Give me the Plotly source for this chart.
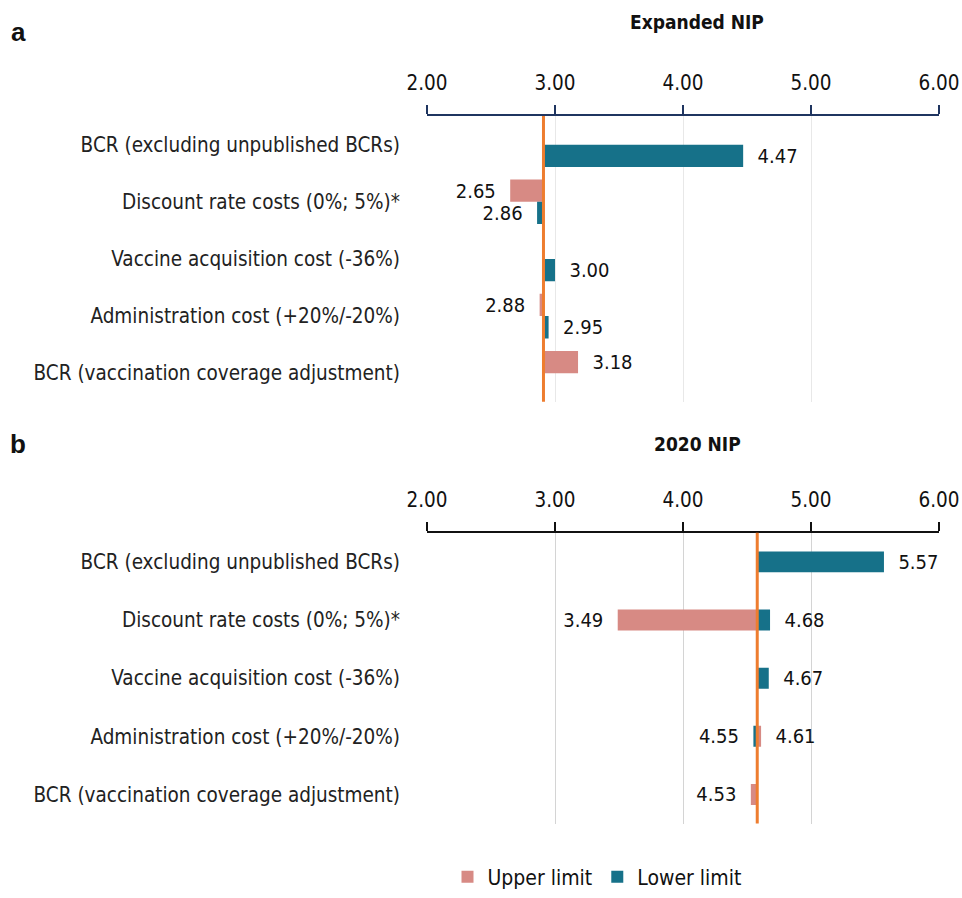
import plotly.graph_objects as go

categories = [
    "BCR (excluding unpublished BCRs)",
    "Discount rate costs (0%; 5%)*",
    "Vaccine acquisition cost (-36%)",
    "Administration cost (+20%/-20%)",
    "BCR (vaccination coverage adjustment)",
]

# Panel a: Expanded NIP
base_a = 2.91
upper_a = [None, 2.65, None, 2.88, 3.18]
lower_a = [4.47, 2.86, 3.00, 2.95, None]

# Panel b: 2020 NIP
base_b = 4.58
upper_b = [None, 3.49, None, 4.61, 4.53]
lower_b = [5.57, 4.68, 4.67, 4.55, None]

tick_vals = [2, 3, 4, 5, 6]
tick_text = ["2.00", "3.00", "4.00", "5.00", "6.00"]

PINK = "#D78A84"
TEAL = "#167189"
ORANGE = "#EE7D2F"
FONT = "DejaVu Sans Condensed, Liberation Sans Narrow, sans-serif"
NB = "\u00a0\u00a0"

W = 962
H = 898
L = 427
PW = 512.0


def lengths(vals, base):
    return [None if v is None else v - base for v in vals]


def labels(vals, base):
    out = []
    for v in vals:
        if v is None:
            out.append("")
        elif v >= base:
            out.append(NB + f"{v:.2f}")
        else:
            out.append(f"{v:.2f}" + NB)
    return out


def py(px):
    return 1 - px / H


def pxx(px):
    return (px - L) / PW


fig = go.Figure()

def add_bar(vals, base, name, color, xa, ya, offset, width, showlegend):
    fig.add_trace(go.Bar(
        y=categories, x=lengths(vals, base), base=base, orientation="h",
        name=name, marker=dict(color=color, line=dict(width=0)),
        text=labels(vals, base), textposition="outside", constraintext="none",
        textfont=dict(family=FONT, size=20, color="#111111"),
        offset=offset, width=width, xaxis=xa, yaxis=ya,
        showlegend=showlegend, cliponaxis=False,
    ))

add_bar(upper_a, base_a, "Upper limit", PINK, "x", "y", -0.39, 0.39, True)
add_bar(lower_a, base_a, "Lower limit", TEAL, "x", "y", 0.0, 0.39, True)
add_bar(upper_b, base_b, "Upper limit", PINK, "x2", "y2", -0.18, 0.36, False)
add_bar(lower_b, base_b, "Lower limit", TEAL, "x2", "y2", -0.18, 0.36, False)

dom_a = [py(405), py(117)]
dom_b = [py(830), py(537)]

xcommon = dict(range=[2, 6], tickvals=tick_vals, ticktext=tick_text, side="top",
               showgrid=True, ticks="outside", ticklen=9, tickwidth=2, linewidth=2,
               showline=True, zeroline=False, ticklabelstandoff=7, automargin=False,
               ticklabeloverflow="allow",
               tickfont=dict(family=FONT, size=20.5, color="#111111"))
ycommon = dict(autorange="reversed", showgrid=False, zeroline=False, showline=False,
               ticks="", ticklabelstandoff=26, automargin=False,
               tickfont=dict(family=FONT, size=20.5, color="#222222"))

fig.update_layout(
    width=W, height=H,
    margin=dict(l=L, r=W - L - PW, t=0, b=0),
    paper_bgcolor="white", plot_bgcolor="white",
    barmode="overlay",
    xaxis=dict(**xcommon, anchor="y", linecolor="#1F3560", tickcolor="#1F3560",
               gridcolor="#E8E8E8"),
    yaxis=dict(**ycommon, domain=dom_a, anchor="x"),
    xaxis2=dict(**xcommon, anchor="y2", linecolor="#111111", tickcolor="#111111",
                gridcolor="#D4D4D4"),
    yaxis2=dict(**ycommon, domain=dom_b, anchor="x2"),
    legend=dict(orientation="h", x=pxx(597), xanchor="center", y=py(884),
                yanchor="middle", font=dict(family=FONT, size=21, color="#111111"),
                traceorder="normal", itemwidth=30),
    showlegend=True,
    shapes=[
        dict(type="line", xref="x", yref="y domain", x0=base_a, x1=base_a, y0=0, y1=1,
             line=dict(color=ORANGE, width=3)),
        dict(type="line", xref="x2", yref="y2 domain", x0=base_b, x1=base_b, y0=0, y1=1,
             line=dict(color=ORANGE, width=3)),
    ],
    annotations=[
        dict(text="<b>Expanded NIP</b>", xref="paper", yref="paper", x=pxx(697),
             y=py(22), xanchor="center", yanchor="middle", showarrow=False,
             font=dict(family=FONT, size=19, color="#111111")),
        dict(text="<b>2020 NIP</b>", xref="paper", yref="paper", x=pxx(697),
             y=py(447), xanchor="center", yanchor="middle", showarrow=False,
             font=dict(family=FONT, size=19, color="#111111")),
        dict(text="<b>a</b>", xref="paper", yref="paper", x=pxx(18), y=py(32),
             xanchor="center", yanchor="middle", showarrow=False,
             font=dict(family="Liberation Sans, Arial, sans-serif", size=26, color="#111111")),
        dict(text="<b>b</b>", xref="paper", yref="paper", x=pxx(18), y=py(447),
             xanchor="center", yanchor="middle", showarrow=False,
             font=dict(family="Liberation Sans, Arial, sans-serif", size=26, color="#111111")),
    ],
)

fig.write_html("out.html", config={"displayModeBar": False},
               post_script="document.body.style.margin='0';document.body.style.overflow='hidden';")
